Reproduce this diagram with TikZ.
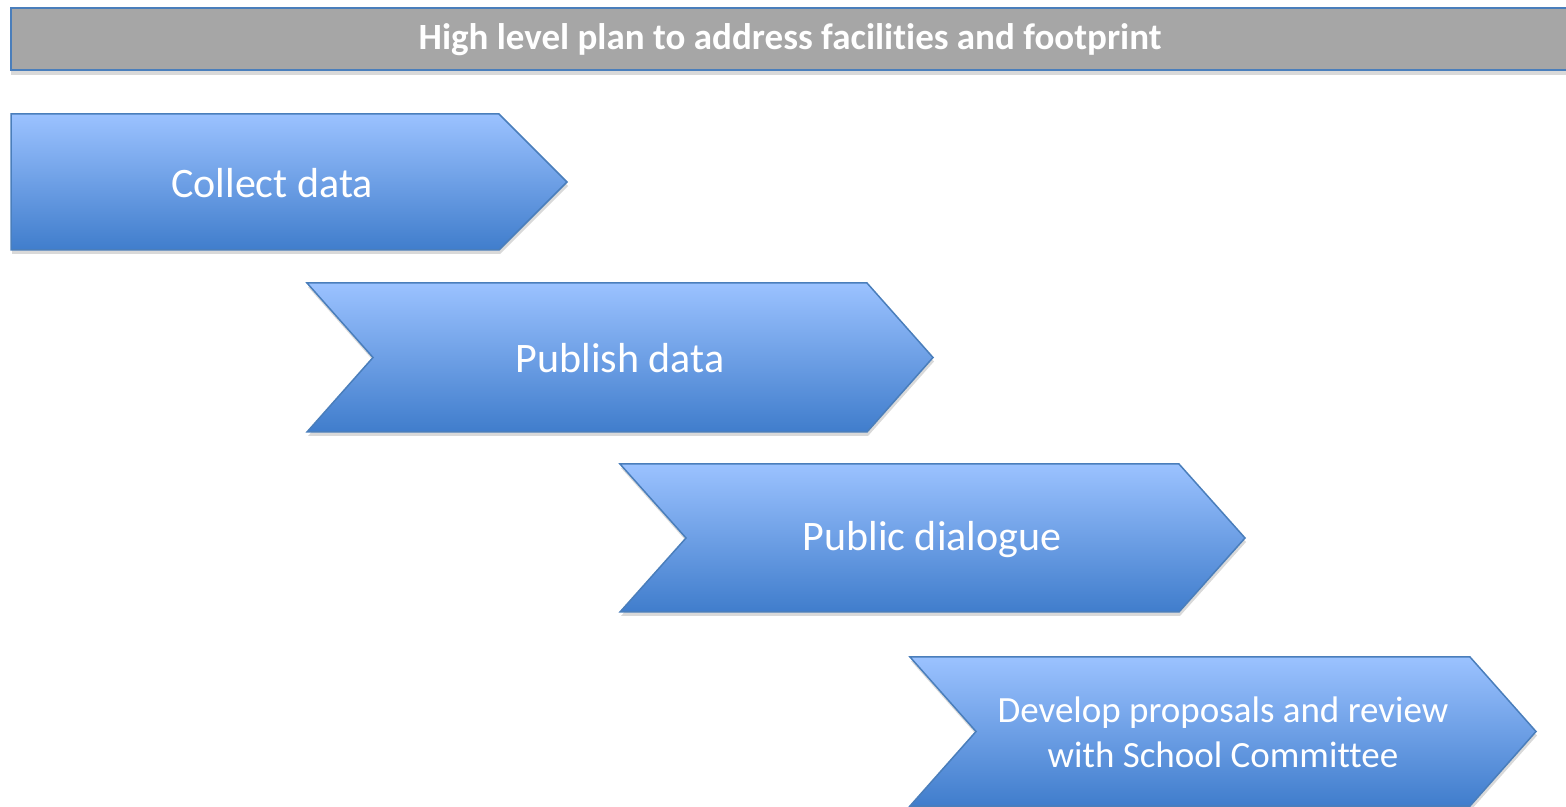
\documentclass[tikz,border=0pt]{standalone}
\usepackage{fontspec}
\setmainfont{Carlito}[Ligatures=NoCommon]
\usetikzlibrary{shadows}

\definecolor{stagetop}{RGB}{155,194,255}
\definecolor{stagebottom}{RGB}{64,125,204}
\definecolor{stageedge}{RGB}{74,126,187}
\definecolor{titlegray}{RGB}{166,166,166}

\tikzset{
	stage/.style={draw=stageedge, line width=1.5pt, top color=stagetop, bottom color=stagebottom,
		drop shadow={opacity=0.3, shadow xshift=1pt, shadow yshift=-4pt}},
	stagetext/.style={text=white, font=\fontsize{42}{51}\selectfont},
	smalltext/.style={text=white, align=center, font=\fontsize{37}{45}\selectfont}
}

\begin{document}
\begin{tikzpicture}[x=1pt, y=1pt]
	
	\useasboundingbox (0,0) rectangle (1566,806);
	
	% title bar
	\draw[draw=stageedge, line width=2pt, fill=titlegray,
		drop shadow={opacity=0.3, shadow xshift=0pt, shadow yshift=-5pt}]
		(11,736) rectangle (1575,798);
	\node[text=white, font=\bfseries\fontsize{37}{44}\selectfont] (title) at (790,766)
		{High level plan to address facilities and footprint};
	
	% first stage
	\coordinate (a1) at (11,692);
	\coordinate (a2) at (499,692);
	\coordinate (a3) at (567,624);
	\coordinate (a4) at (499,556);
	\coordinate (a5) at (11,556);
	\draw[stage] (a1) -- (a2) -- (a3) -- (a4) -- (a5) -- cycle;
	\node[stagetext] (collect) at (272,623) {Collect data};
	
	% second stage
	\coordinate (b1) at (307,523);
	\coordinate (b2) at (867,523);
	\coordinate (b3) at (933,448.5);
	\coordinate (b4) at (867,374);
	\coordinate (b5) at (307,374);
	\coordinate (b6) at (373,448.5);
	\draw[stage] (b1) -- (b2) -- (b3) -- (b4) -- (b5) -- (b6) -- cycle;
	\node[stagetext] (publish) at (620,448) {Publish data};
	
	% third stage
	\coordinate (c1) at (620,342);
	\coordinate (c2) at (1179,342);
	\coordinate (c3) at (1245,268);
	\coordinate (c4) at (1179,194);
	\coordinate (c5) at (620,194);
	\coordinate (c6) at (686,268);
	\draw[stage] (c1) -- (c2) -- (c3) -- (c4) -- (c5) -- (c6) -- cycle;
	\node[stagetext] (dialogue) at (932,266) {Public dialogue};
	
	% fourth stage
	\coordinate (d1) at (910,149);
	\coordinate (d2) at (1470,149);
	\coordinate (d3) at (1536,74.5);
	\coordinate (d4) at (1470,0);
	\coordinate (d5) at (910,0);
	\coordinate (d6) at (976,74.5);
	\draw[stage] (d1) -- (d2) -- (d3) -- (d4) -- (d5) -- (d6) -- cycle;
	\node[smalltext] (proposals) at (1223,74)
		{Develop proposals and review\\with School Committee};
	
\end{tikzpicture}
\end{document}
